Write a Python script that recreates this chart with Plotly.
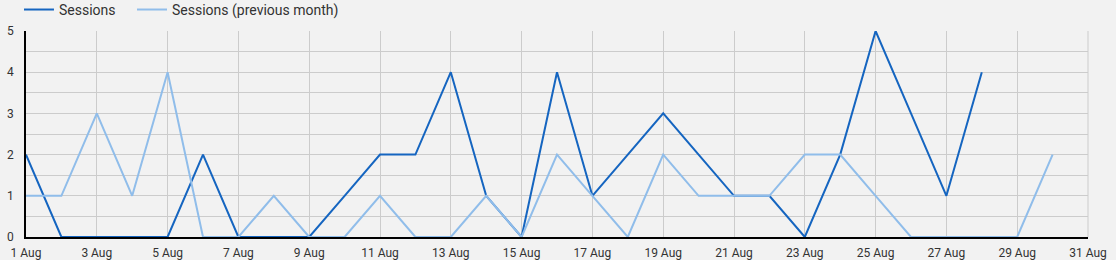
import plotly.graph_objects as go
import pandas as pd

days = list(range(1, 31))
sessions = [2, 0, 0, 0, 0, 2, 0, 0, 0, 1, 2, 2, 4, 1, 0, 4, 1, 2, 3, 2, 1, 1, 0, 2, 5, 3, 1, 4]
sessions_prev = [1, 1, 3, 1, 4, 0, 0, 1, 0, 0, 1, 0, 0, 1, 0, 2, 1, 0, 2, 1, 1, 1, 2, 2, 1, 0, 0, 0, 0, 2]
y_ticks = [0, 1, 2, 3, 4, 5]

dates_cur = pd.to_datetime([f"2023-08-{d:02d}" for d in days[:len(sessions)]])
dates_prev = pd.to_datetime([f"2023-08-{d:02d}" for d in days[:len(sessions_prev)]])

dark = "#1565c0"
light = "#90bdea"

fig = go.Figure()
fig.add_trace(go.Scatter(x=dates_cur, y=sessions, mode="lines", name="Sessions",
                         line=dict(color=dark, width=2), legend="legend"))
fig.add_trace(go.Scatter(x=dates_prev, y=sessions_prev, mode="lines", name="Sessions (previous month)",
                         line=dict(color=light, width=2), legend="legend2"))

leg_common = dict(orientation="h", xanchor="left", y=1.18, yanchor="top",
                  yref="paper", xref="container", font=dict(size=14, color="#333333"),
                  bgcolor="rgba(0,0,0,0)", itemwidth=30, borderwidth=0)

fig.update_layout(
    template="none",
    width=1116, height=260,
    margin=dict(l=26, r=28, t=31, b=23, autoexpand=False),
    paper_bgcolor="#f2f2f2", plot_bgcolor="#f2f2f2",
    font=dict(family="Roboto", size=12, color="#333333"),
    showlegend=True,
    legend=dict(x=0.017, **leg_common),
    legend2=dict(x=0.1183, **leg_common),
)
fig.update_xaxes(
    type="date",
    range=["2023-08-01", "2023-08-31"],
    dtick=2 * 86400000, tick0="2023-08-01",
    tickformat="%-d %b",
    showgrid=True, gridcolor="#cccccc", gridwidth=1,
    showline=True, linecolor="#000000", linewidth=1.5,
    ticks="", zeroline=False, automargin=False,
    ticklabelstandoff=4,
    tickfont=dict(size=12, color="#333333"),
)
fig.update_yaxes(
    range=[0, 5],
    tickvals=y_ticks,
    showgrid=True, gridcolor="#cccccc", gridwidth=1,
    minor=dict(dtick=0.5, showgrid=True, gridcolor="#cccccc"),
    showline=True, linecolor="#000000", linewidth=1.5,
    ticks="", zeroline=False, automargin=False,
    ticklabelstandoff=8,
    tickfont=dict(size=12, color="#333333"),
)
fig.update_layout(shapes=[dict(type="line", xref="paper", yref="paper", x0=1, x1=1, y0=0, y1=1,
                               line=dict(color="#cccccc", width=1), layer="below")])
fig.write_html("out.html")
